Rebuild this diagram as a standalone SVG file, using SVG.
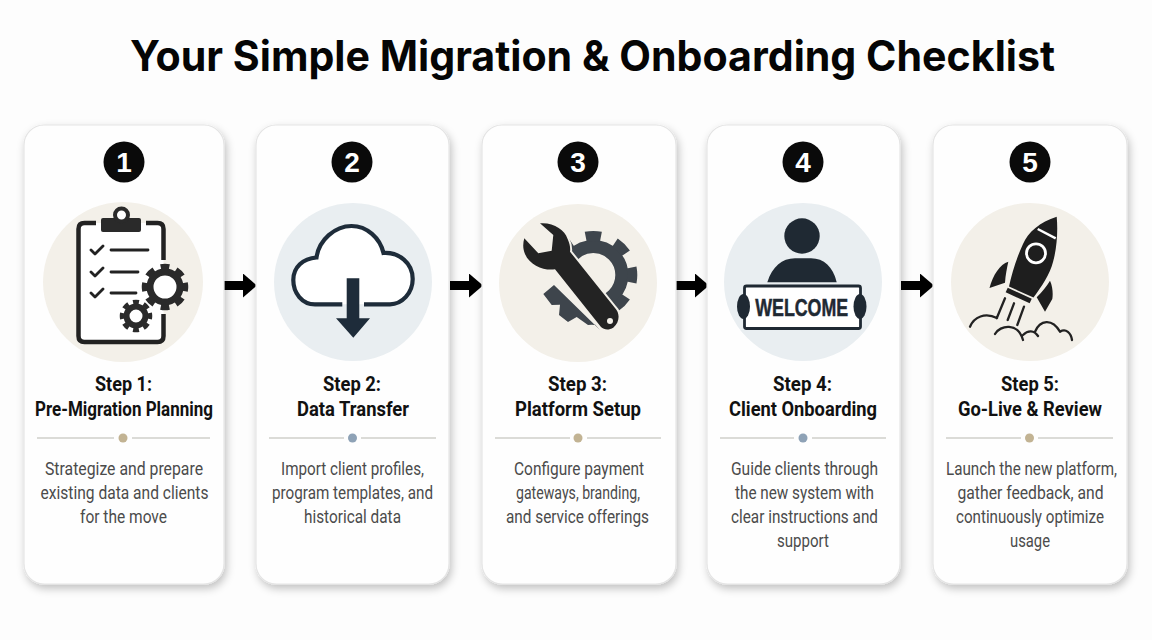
<svg xmlns="http://www.w3.org/2000/svg" width="1152" height="640" viewBox="0 0 1152 640">
<style>
.title{font:700 42px Inter,"Liberation Sans",Arial,sans-serif;fill:#050505;text-anchor:start}
.card{fill:#fefefe;stroke:#e4e4e4;stroke-width:1.2;filter:url(#sh)}
.num{font:bold 28px "Liberation Sans",Arial,sans-serif;fill:#fff;text-anchor:middle}
.st{font:bold 20.5px Roboto,"Liberation Sans",sans-serif;fill:#111;text-anchor:middle}
.bd{font:400 18px Roboto,"Liberation Sans",sans-serif;fill:#4b4b4b;text-anchor:middle}
.rule{stroke:#cfcfca;stroke-width:1.4}
.cream{fill:#f3f0e9}.blue{fill:#e9eef1}
.tan{fill:#c2b393}.slate{fill:#8ea2b6}
.conn{stroke:#000;stroke-width:9;marker-end:url(#ah)}
.ink{fill:none;stroke:#222;stroke-linecap:round;stroke-linejoin:round}
</style>
<defs>
<filter id="sh" x="-10%" y="-10%" width="125%" height="120%"><feDropShadow dx="2" dy="4" stdDeviation="4" flood-color="#000" flood-opacity=".24"/></filter>
<marker id="ah" markerUnits="userSpaceOnUse" markerWidth="14" markerHeight="24" refX="0" refY="12" orient="auto"><path d="M0 0L14 12L0 24Z" fill="#000"/></marker>
<clipPath id="ringclip"><path d="M555 250L612 322H650V220H555Z"/></clipPath>
</defs>
<rect width="1152" height="640" fill="#fdfdfd"/>
<text class="title" x="130" y="71" textLength="925" lengthAdjust="spacingAndGlyphs">Your Simple Migration &amp; Onboarding Checklist</text>

<g id="connectors">
<line class="conn" x1="224" y1="285.5" x2="243" y2="285.5"/>
<line class="conn" x1="450" y1="285.5" x2="469" y2="285.5"/>
<line class="conn" x1="676" y1="285.5" x2="695" y2="285.5"/>
<line class="conn" x1="901" y1="285.5" x2="920" y2="285.5"/>
</g>

<g id="step1">
<rect class="card" x="24" y="125" width="200" height="459" rx="20"/>
<circle cx="124" cy="162" r="20.5" fill="#0a0a0a"/><text class="num" x="124" y="172">1</text>
<circle class="cream" cx="123" cy="282" r="80"/>
<rect x="78.500" y="223" width="85" height="119" rx="6" fill="#fff"/>
<path d="M96 223H84.500Q78.500 223 78.500 229V336Q78.500 342 84.500 342H157.500Q163.500 342 163.500 336V314M163.500 260V229Q163.500 223 157.500 223H146" fill="none" stroke="#222" stroke-width="4.500"/>
<rect x="101" y="218" width="40" height="14" rx="2" fill="#2a2a2a"/>
<circle cx="121.500" cy="215" r="6.500" fill="#fff" stroke="#2a2a2a" stroke-width="4"/>
<path class="ink" stroke-width="2.800" d="M91 250l4 4l8-8M91 272l4 4l8-8M91 293l4 4l8-8"/>
<path class="ink" stroke-width="2.800" d="M111 250H148M111 272H138M111 293H136"/>
<circle cx="165" cy="287" r="15" fill="#fff" stroke="#2a2a2a" stroke-width="7"/>
<circle cx="165" cy="287" r="20.500" fill="none" stroke="#2a2a2a" stroke-width="5.500" pathLength="8" stroke-dasharray=".55 .45" stroke-dashoffset=".275"/>
<circle cx="136" cy="316" r="9.500" fill="none" stroke="#2a2a2a" stroke-width="6"/>
<circle cx="136" cy="316" r="14" fill="none" stroke="#2a2a2a" stroke-width="4.500" pathLength="8" stroke-dasharray=".55 .45" stroke-dashoffset=".275"/>
<text class="st" x="123.500" y="391" textLength="57" lengthAdjust="spacingAndGlyphs">Step 1:</text>
<text class="st" x="124" y="416" textLength="178" lengthAdjust="spacingAndGlyphs">Pre-Migration Planning</text>
<path class="rule" d="M37 438H114M132 438H210"/><circle class="tan" cx="123" cy="438" r="4.500"/>
<text class="bd" x="124" y="475" textLength="158" lengthAdjust="spacingAndGlyphs">Strategize and prepare</text>
<text class="bd" x="124.500" y="499" textLength="168" lengthAdjust="spacingAndGlyphs">existing data and clients</text>
<text class="bd" x="123.500" y="523" textLength="87" lengthAdjust="spacingAndGlyphs">for the move</text>
</g>

<g id="step2">
<rect class="card" x="256" y="125" width="193" height="459" rx="20"/>
<circle cx="352" cy="162" r="20.500" fill="#0a0a0a"/><text class="num" x="352" y="172">2</text>
<circle class="blue" cx="353" cy="282" r="79"/>
<path d="M342.300 304.300H315C302 304.300 293.300 293 293.300 280C293.300 267 303 258.500 316.500 257.500C319 240 335 226 351.500 226C367 226 380 238 383.500 253C399 252 412.700 263 412.700 279C412.700 293 402 304.300 390 304.300H364" fill="#fff" stroke="#1e2c3a" stroke-width="4.200"/>
<path d="M346.700 278.300H359.300V318.300H370L353.300 337.700L336 318.300H346.700Z" fill="#1e2c3a"/>
<text class="st" x="352" y="391" textLength="58" lengthAdjust="spacingAndGlyphs">Step 2:</text>
<text class="st" x="353" y="416" textLength="112" lengthAdjust="spacingAndGlyphs">Data Transfer</text>
<path class="rule" d="M269 438H344M361 438H436"/><circle class="slate" cx="352.500" cy="438" r="4.500"/>
<text class="bd" x="352.500" y="475" textLength="143" lengthAdjust="spacingAndGlyphs">Import client profiles,</text>
<text class="bd" x="352.500" y="499" textLength="161" lengthAdjust="spacingAndGlyphs">program templates, and</text>
<text class="bd" x="352.500" y="523" textLength="97" lengthAdjust="spacingAndGlyphs">historical data</text>
</g>

<g id="step3">
<rect class="card" x="482" y="125" width="194" height="459" rx="20"/>
<circle cx="578" cy="162" r="20.500" fill="#0a0a0a"/><text class="num" x="578" y="172">3</text>
<circle class="cream" cx="578" cy="283" r="79"/>
<g clip-path="url(#ringclip)">
<circle cx="593.300" cy="275" r="28.500" fill="none" stroke="#3e454c" stroke-width="13"/>
<circle cx="593.300" cy="275" r="39" fill="none" stroke="#3e454c" stroke-width="10" pathLength="8" stroke-dasharray=".5 .5" stroke-dashoffset=".25"/>
</g>
<path d="M543.300 294L554 285L600 330L595 324.500L588 325L576.700 317L568 322L559 315L560 304.700L551.700 305Z" fill="#3e454c"/>
<path d="M540 223.300C553 222 565 230 567.300 238.300C570 244 570.500 248 570 251.700L615 308C620 313 620 322 613.500 327.500C608 331 604 329.500 601 327L555 269.300C545 271 530 266 525 254C522.500 248 523 243 524.300 238.300L538.300 253.300L551.700 250.700L553.300 235Z" fill="#232323" stroke="#f3f0e9" stroke-width="4" paint-order="stroke"/>
<circle cx="610" cy="321" r="3" fill="#f3f0e9"/>
<text class="st" x="577.500" y="391" textLength="59" lengthAdjust="spacingAndGlyphs">Step 3:</text>
<text class="st" x="578" y="416" textLength="126" lengthAdjust="spacingAndGlyphs">Platform Setup</text>
<path class="rule" d="M495 438H570M587 438H661"/><circle class="tan" cx="578" cy="438" r="4.500"/>
<text class="bd" x="579" y="475" textLength="130" lengthAdjust="spacingAndGlyphs">Configure payment</text>
<text class="bd" x="578" y="499" textLength="124" lengthAdjust="spacingAndGlyphs">gateways, branding,</text>
<text class="bd" x="577.500" y="523" textLength="143" lengthAdjust="spacingAndGlyphs">and service offerings</text>
</g>

<g id="step4">
<rect class="card" x="707" y="125" width="193" height="459" rx="20"/>
<circle cx="803" cy="162" r="20.500" fill="#0a0a0a"/><text class="num" x="803" y="172">4</text>
<circle class="blue" cx="803" cy="282" r="79"/>
<circle cx="802" cy="236" r="17.700" fill="#1f2933"/>
<path d="M767.300 282.300C772 267 782 258.300 795 258.300H811C824 258.300 833 267 836.700 282.300Z" fill="#1f2933"/>
<rect x="744.500" y="286" width="116" height="42.500" rx="2" fill="#fff" stroke="#1f2933" stroke-width="2.800"/>
<ellipse cx="743.500" cy="306.500" rx="6.500" ry="12.500" fill="#1f2933"/>
<ellipse cx="860" cy="306.500" rx="6.500" ry="12.500" fill="#1f2933"/>
<text x="801.700" y="316" text-anchor="middle" font-family="Liberation Sans, Arial, sans-serif" font-weight="700" font-size="24.500" fill="#1f2933" stroke="#1f2933" stroke-width=".5" textLength="93" lengthAdjust="spacingAndGlyphs">WELCOME</text>
<text class="st" x="802.500" y="391" textLength="59" lengthAdjust="spacingAndGlyphs">Step 4:</text>
<text class="st" x="803" y="416" textLength="148" lengthAdjust="spacingAndGlyphs">Client Onboarding</text>
<path class="rule" d="M720 438H794M812 438H886"/><circle class="slate" cx="803" cy="438" r="4.500"/>
<text class="bd" x="804.500" y="475" textLength="147" lengthAdjust="spacingAndGlyphs">Guide clients through</text>
<text class="bd" x="804.500" y="499" textLength="139" lengthAdjust="spacingAndGlyphs">the new system with</text>
<text class="bd" x="804.500" y="523" textLength="147" lengthAdjust="spacingAndGlyphs">clear instructions and</text>
<text class="bd" x="803" y="547" textLength="52" lengthAdjust="spacingAndGlyphs">support</text>
</g>

<g id="step5">
<rect class="card" x="933" y="125" width="194" height="459" rx="20"/>
<circle cx="1030" cy="162" r="20.500" fill="#0a0a0a"/><text class="num" x="1030" y="172">5</text>
<circle class="cream" cx="1030" cy="282" r="79"/>
<path d="M1056.700 216.700C1040 222 1028 232 1023 244C1017 257 1012 272 1009 286.500L1033.500 297.500C1042 286 1050 274 1053 262C1057 248 1058 230 1056.700 216.700Z" fill="#1e1e1e"/>
<circle cx="1036" cy="253.300" r="9.500" fill="#1e1e1e" stroke="#fff" stroke-width="2.800"/>
<path d="M1037.700 229L1055.700 238.300" stroke="#fff" stroke-width="2.500"/>
<path d="M1006.700 290L1030.700 301" stroke="#1e1e1e" stroke-width="5"/>
<path d="M1008.300 261.700C1000 264 993 275 989.500 288L1005 282.700C1005.500 275 1007 268 1008.300 261.700ZM1050 280.700C1053 287 1053 295 1052.300 299L1045 311.700L1036.700 297.300C1042 292 1047 286 1050 280.700Z" fill="#1e1e1e"/>
<path class="ink" stroke-width="2.300" d="M1005 298.300L996.700 318.300M1014 303.300L1007.700 320M1024 306.700L1017.300 325M970 326.700C974 317 985 312 997 318M995 334C1000 325 1018 322 1023 340M1023 335C1028 330 1034 330 1038 336M1035 331.700C1040 320 1052 318 1060 331.700M1060 331.700C1066 328 1071 333 1072 340"/>
<text class="st" x="1030" y="391" textLength="58" lengthAdjust="spacingAndGlyphs">Step 5:</text>
<text class="st" x="1030" y="416" textLength="144" lengthAdjust="spacingAndGlyphs">Go-Live &amp; Review</text>
<path class="rule" d="M946 438H1021M1038 438H1113"/><circle class="tan" cx="1029.500" cy="438" r="4.500"/>
<text class="bd" x="1031.500" y="475" textLength="171" lengthAdjust="spacingAndGlyphs">Launch the new platform,</text>
<text class="bd" x="1030.500" y="499" textLength="146" lengthAdjust="spacingAndGlyphs">gather feedback, and</text>
<text class="bd" x="1030" y="523" textLength="148" lengthAdjust="spacingAndGlyphs">continuously optimize</text>
<text class="bd" x="1030" y="547" textLength="40" lengthAdjust="spacingAndGlyphs">usage</text>
</g>
</svg>
